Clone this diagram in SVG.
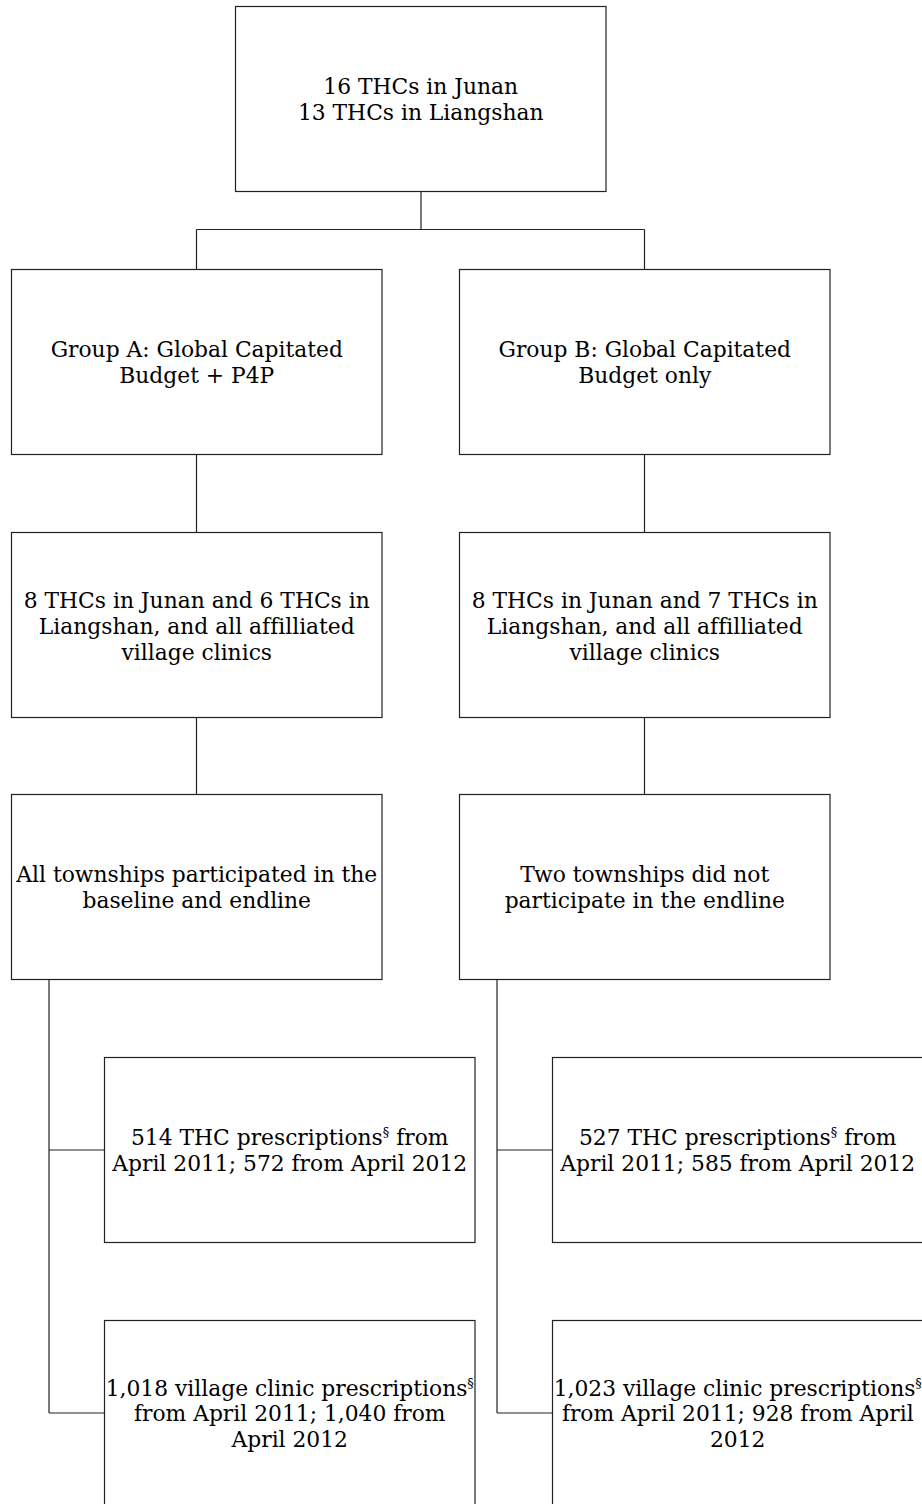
<svg xmlns="http://www.w3.org/2000/svg" width="922" height="1504" viewBox="0 0 922 1504">
<style>
.box{fill:#fff;stroke:#222;stroke-width:1.2}
.ln{fill:none;stroke:#222;stroke-width:1.2}
text{font-family:"DejaVu Serif","Liberation Serif",serif;font-size:21.8px;fill:#000;text-anchor:middle;font-variant-ligatures:none}
.sup{font-size:13px}
</style>
<rect width="922" height="1504" fill="#fff"/>
<g id="connectors">
<path class="ln" d="M421 191.5V229.5M196.5 229.5H644.5M196.5 229.5V269.5M644.5 229.5V269.5"/>
<path class="ln" d="M196.5 454.5V532.5M644.5 454.5V532.5M196.5 717.5V794.5M644.5 717.5V794.5"/>
<path class="ln" d="M49 979.5V1413M49 1150H104.5M49 1413H104.5"/>
<path class="ln" d="M497 979.5V1413M497 1150H552.5M497 1413H552.5"/>
</g>
<g id="n0"><rect class="box" x="235.5" y="6.5" width="370.5" height="185"/>
<text x="420.75" y="94">16 THCs in Junan</text><text x="420.75" y="120">13 THCs in Liangshan</text></g>
<g id="nA1"><rect class="box" x="11.5" y="269.5" width="370.5" height="185"/>
<text x="196.75" y="357">Group A: Global Capitated</text><text x="196.75" y="383">Budget + P4P</text></g>
<g id="nB1"><rect class="box" x="459.5" y="269.5" width="370.5" height="185"/>
<text x="644.75" y="357">Group B: Global Capitated</text><text x="644.75" y="383">Budget only</text></g>
<g id="nA2"><rect class="box" x="11.5" y="532.5" width="370.5" height="185"/>
<text x="196.75" y="608">8 THCs in Junan and 6 THCs in</text><text x="196.75" y="634">Liangshan, and all affilliated</text><text x="196.75" y="660">village clinics</text></g>
<g id="nB2"><rect class="box" x="459.5" y="532.5" width="370.5" height="185"/>
<text x="644.75" y="608">8 THCs in Junan and 7 THCs in</text><text x="644.75" y="634">Liangshan, and all affilliated</text><text x="644.75" y="660">village clinics</text></g>
<g id="nA3"><rect class="box" x="11.5" y="794.5" width="370.5" height="185"/>
<text x="196.75" y="882">All townships participated in the</text><text x="196.75" y="908">baseline and endline</text></g>
<g id="nB3"><rect class="box" x="459.5" y="794.5" width="370.5" height="185"/>
<text x="644.75" y="882">Two townships did not</text><text x="644.75" y="908">participate in the endline</text></g>
<g id="nA4"><rect class="box" x="104.5" y="1057.5" width="370.5" height="185"/>
<text x="289.75" y="1145">514 THC prescriptions<tspan class="sup" dy="-8">§</tspan><tspan dy="8"> from</tspan></text><text x="289.75" y="1171">April 2011; 572 from April 2012</text></g>
<g id="nB4"><rect class="box" x="552.5" y="1057.5" width="370.5" height="185"/>
<text x="737.75" y="1145">527 THC prescriptions<tspan class="sup" dy="-8">§</tspan><tspan dy="8"> from</tspan></text><text x="737.75" y="1171">April 2011; 585 from April 2012</text></g>
<g id="nA5"><rect class="box" x="104.5" y="1320.5" width="370.5" height="185"/>
<text x="289.75" y="1396">1,018 village clinic prescriptions<tspan class="sup" dy="-8">§</tspan></text><text x="289.75" y="1421">from April 2011; 1,040 from</text><text x="289.75" y="1447">April 2012</text></g>
<g id="nB5"><rect class="box" x="552.5" y="1320.5" width="370.5" height="185"/>
<text x="737.75" y="1396">1,023 village clinic prescriptions<tspan class="sup" dy="-8">§</tspan></text><text x="737.75" y="1421">from April 2011; 928 from April</text><text x="737.75" y="1447">2012</text></g>
</svg>
